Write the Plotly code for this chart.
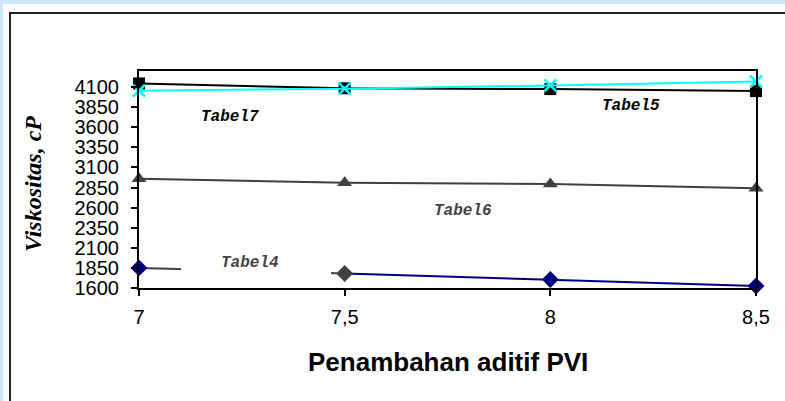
import plotly.graph_objects as go

# ---- data ----
x_pvi = [7, 7.5, 8, 8.5]
x_ticklabels = ["7", "7,5", "8", "8,5"]
tabel4 = [1850, 1780, 1705, 1625]
tabel5 = [4145, 4085, 4075, 4050]
tabel6 = [2960, 2910, 2895, 2840]
tabel7 = [4055, 4080, 4120, 4170]
y_ticks = [1600, 1850, 2100, 2350, 2600, 2850, 3100, 3350, 3600, 3850, 4100]

NAVY = "#000080"
DGRAY = "#404040"
CYAN = "#00ffff"

fig = go.Figure()

# Tabel4: first segment gray, rest navy
fig.add_trace(go.Scatter(x=x_pvi[:2], y=tabel4[:2], mode="lines",
                         line=dict(color=DGRAY, width=2), showlegend=False))
fig.add_trace(go.Scatter(x=x_pvi[1:], y=tabel4[1:], mode="lines",
                         line=dict(color=NAVY, width=2), showlegend=False))
fig.add_trace(go.Scatter(x=x_pvi, y=tabel4, mode="markers", cliponaxis=False,
                         marker=dict(symbol="diamond", size=13,
                                     color=[NAVY, DGRAY, NAVY, NAVY]),
                         showlegend=False))
# Tabel5
fig.add_trace(go.Scatter(x=x_pvi, y=tabel5, mode="lines+markers", cliponaxis=False,
                         line=dict(color="black", width=2),
                         marker=dict(symbol="square", size=12, color="black"),
                         showlegend=False))
# Tabel6
fig.add_trace(go.Scatter(x=x_pvi, y=tabel6, mode="lines+markers", cliponaxis=False,
                         line=dict(color=DGRAY, width=2),
                         marker=dict(symbol="triangle-up", size=13, color=DGRAY),
                         showlegend=False))
# Tabel7
fig.add_trace(go.Scatter(x=x_pvi, y=tabel7, mode="lines+markers", cliponaxis=False,
                         line=dict(color=CYAN, width=2),
                         marker=dict(symbol="x-thin", size=12,
                                     line=dict(color=CYAN, width=2.5)),
                         showlegend=False))

shapes = [
    # white page over light-blue background edge
    dict(type="rect", xref="paper", yref="paper", layer="below",
         x0=(3 - 139) / 617, x1=1.2, y0=-0.7, y1=(288 - 4) / 217,
         fillcolor="white", line=dict(width=0)),
    # outer chart frame
    dict(type="rect", xref="paper", yref="paper", layer="below",
         x0=(10 - 139) / 617, x1=1.2, y0=-0.7, y1=(288 - 13) / 217,
         fillcolor="white", line=dict(color="#222222", width=2)),
    # white label box that hides part of Tabel4
    dict(type="rect", xref="x", yref="y", layer="above",
         x0=7.102, x1=7.467, y0=1580, y1=2000,
         fillcolor="white", line=dict(width=0)),
]

lab_font = dict(family="Liberation Mono, Courier New, monospace", size=16)
annotations = [
    dict(x=7.221, y=3727, text="<b><i>Tabel7</i></b>", showarrow=False,
         font=dict(**lab_font, color="black")),
    dict(x=8.196, y=3864, text="<b><i>Tabel5</i></b>", showarrow=False,
         font=dict(**lab_font, color="black")),
    dict(x=7.788, y=2558, text="<b><i>Tabel6</i></b>", showarrow=False,
         font=dict(**lab_font, color="#444444")),
    dict(x=7.27, y=1911, text="<b><i>Tabel4</i></b>", showarrow=False,
         font=dict(**lab_font, color="#444444")),
    dict(xref="paper", yref="paper", x=0.5, y=(288 - 362) / 217,
         xanchor="center", yanchor="middle", showarrow=False,
         text="<b>Penambahan aditif PVI</b>",
         font=dict(family="Liberation Sans, Arial", size=26, color="black")),
    dict(xref="paper", yref="paper", x=(33 - 139) / 617, y=(288 - 184) / 217,
         xanchor="center", yanchor="middle", showarrow=False, textangle=-90,
         text="<b><i>Viskositas, cP</i></b>",
         font=dict(family="Liberation Serif, Times New Roman", size=24, color="black")),
]

tick_font = dict(family="Liberation Sans, Arial", size=20, color="black")

fig.update_layout(
    width=785, height=401,
    margin=dict(l=139, r=29, t=71, b=113, autoexpand=False),
    paper_bgcolor="#cbe8fa",
    plot_bgcolor="white",
    shapes=shapes,
    annotations=annotations,
    font=dict(family="Liberation Sans, Arial", size=20, color="black"),
)
fig.update_xaxes(range=[7, 8.5], tickvals=x_pvi, ticktext=x_ticklabels,
                 tickfont=tick_font,
                 showgrid=False, zeroline=False,
                 showline=True, linecolor="black", linewidth=2, mirror=True,
                 ticks="outside", ticklen=6, tickcolor="black", tickwidth=1.5,
                 ticklabelstandoff=4)
fig.update_yaxes(range=[1600, 4300], tickvals=y_ticks,
                 tickfont=tick_font,
                 showgrid=False, zeroline=False,
                 showline=True, linecolor="black", linewidth=2, mirror=True,
                 ticks="outside", ticklen=6, tickcolor="black", tickwidth=1.5,
                 ticklabelstandoff=8)

fig.write_html("out.html", config={"displayModeBar": False},
               post_script="document.body.style.margin='0';document.body.style.overflow='hidden';")
